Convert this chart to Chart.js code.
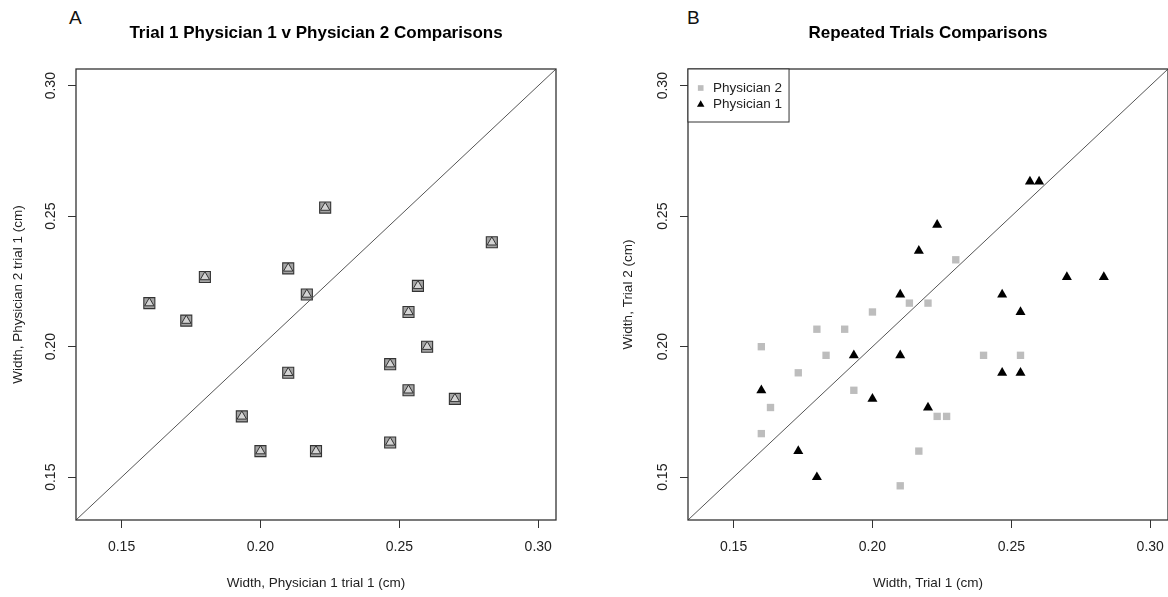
<!doctype html>
<html lang="en">
<head>
  <meta charset="utf-8">
  <title>Physician width comparisons</title>
  <script src="https://cdn.jsdelivr.net/npm/chart.js"></script>
  <style>
    html, body { margin: 0; padding: 0; background: #fff; }
    body { width: 1168px; height: 597px; overflow: hidden; position: relative;
           font-family: "Liberation Sans", Arial, sans-serif; }
    .panel { position: absolute; top: 0; }
    .tag { position: absolute; top: 8px; font-size: 19px; line-height: 19px; color: #111; }
  </style>
</head>
<body>
  <div class="tag" style="left:69px">A</div>
  <div class="tag" style="left:687px">B</div>
  <canvas id="chartA" class="panel" style="left:0" width="584" height="597"></canvas>
  <canvas id="chartB" class="panel" style="left:584px" width="600" height="597"></canvas>

  <script>
    // widths (cm), one entry per patient
    const p1Trial1 = [0.2233, 0.2833, 0.2100, 0.1800, 0.2567, 0.2167, 0.1600, 0.1733, 0.2533,
                      0.2600, 0.2467, 0.2100, 0.2533, 0.2700, 0.1933, 0.2467, 0.2000, 0.2200];
    const p2Trial1 = [0.2533, 0.2400, 0.2300, 0.2267, 0.2233, 0.2200, 0.2167, 0.2100, 0.2133,
                      0.2000, 0.1933, 0.1900, 0.1833, 0.1800, 0.1733, 0.1633, 0.1600, 0.1600];
    const p1Trial2 = [0.2467, 0.2267, 0.2200, 0.1500, 0.2633, 0.2367, 0.1833, 0.1600, 0.2133,
                      0.2633, 0.2200, 0.1967, 0.1900, 0.2267, 0.1967, 0.1900, 0.1800, 0.1767];
    const p2Trial2 = [0.1967, 0.1967, 0.2333, 0.1733, 0.1733, 0.2167, 0.1600, 0.1467, 0.2167,
                      0.2133, 0.1833, 0.2067, 0.1967, 0.2067, 0.1900, 0.1767, 0.2000, 0.1667];

    const tickValues = [0.15, 0.20, 0.25, 0.30];
    const axisMin = 0.1336, axisMax = 0.3064;   // xlim 0.14..0.30 plus R's 4% pad
    const diagEnds = [axisMin, axisMax];
    const legendNames = ['Physician 2', 'Physician 1'];

    Chart.defaults.font.family = '"Liberation Sans", Arial, sans-serif';
    Chart.defaults.color = '#222';

    const pts = (xs, ys) => xs.map((x, i) => ({ x, y: ys[i] }));

    // box round the plot region, like R's box()
    const frame = {
      id: 'frame',
      afterDatasetsDraw(chart) {
        const { ctx, chartArea: a } = chart;
        ctx.save();
        ctx.strokeStyle = '#333';
        ctx.lineWidth = 1.3;
        ctx.strokeRect(a.left, a.top, a.right - a.left, a.bottom - a.top);
        ctx.restore();
      }
    };

    // R style legend sitting in the top left corner of panel B
    const cornerLegend = {
      id: 'cornerLegend',
      afterDraw(chart) {
        const { ctx, chartArea: a } = chart;
        ctx.save();
        ctx.font = '13.5px "Liberation Sans", Arial, sans-serif';
        const textW = Math.max(...legendNames.map(n => ctx.measureText(n).width));
        ctx.fillStyle = '#fff';
        ctx.fillRect(a.left, a.top, 25 + textW + 7, 53);
        ctx.strokeStyle = '#333';
        ctx.lineWidth = 1;
        ctx.strokeRect(a.left, a.top, 25 + textW + 7, 53);
        legendNames.forEach((name, i) => {
          const ds = chart.data.datasets.find(d => d.label === name);
          const y = a.top + 19 + i * 16.5;
          ctx.fillStyle = ds.backgroundColor;
          Chart.helpers.drawPoint(ctx, {
            pointStyle: ds.pointStyle,
            radius: ds.pointStyle === 'rect' ? 4 : 4.3,
            rotation: 0,
            borderWidth: 0
          }, a.left + 12.7, y);
          ctx.fillStyle = '#222';
          ctx.textBaseline = 'middle';
          ctx.textAlign = 'left';
          ctx.fillText(name, a.left + 25, y);
        });
        ctx.restore();
      }
    };

    function panelOptions(title, xTitle, yTitle, padLeft, padRight, yWidth) {
      return {
        responsive: false,
        animation: false,
        layout: { padding: { left: padLeft, right: padRight, top: 0, bottom: 0 } },
        plugins: {
          legend: { display: false },
          tooltip: { enabled: false },
          title: {
            display: true, text: title, fullSize: false, color: '#000',
            font: { size: 17, weight: 'bold' },
            padding: { top: 23, bottom: 25.6 }
          }
        },
        scales: {
          x: {
            type: 'linear', min: axisMin, max: axisMax,
            afterFit: s => { s.height = 77; },
            afterBuildTicks: s => { s.ticks = tickValues.map(v => ({ value: v })); },
            grid: { drawOnChartArea: false, tickLength: 8, color: '#333' },
            border: { display: false },
            ticks: { padding: 11, font: { size: 14 }, callback: v => v.toFixed(2) },
            title: { display: true, text: xTitle, font: { size: 13.5 }, padding: { top: 0, bottom: 6 } }
          },
          y: {
            type: 'linear', min: axisMin, max: axisMax,
            afterFit: s => { s.width = yWidth; },
            afterBuildTicks: s => { s.ticks = tickValues.map(v => ({ value: v })); },
            grid: { drawOnChartArea: false, tickLength: 8, color: '#333' },
            border: { display: false },
            ticks: {
              padding: 3, minRotation: 90, maxRotation: 90, crossAlign: 'center',
              font: { size: 14 }, callback: v => v.toFixed(2)
            },
            title: { display: true, text: yTitle, font: { size: 13.5 }, padding: { top: 10.5, bottom: 0 } }
          }
        }
      };
    }

    const diagonal = () => ({
      label: 'y = x', data: pts(diagEnds, diagEnds), showLine: true,
      borderColor: '#555', borderWidth: 1, pointRadius: 0
    });

    new Chart(document.getElementById('chartA'), {
      type: 'scatter',
      data: {
        datasets: [
          diagonal(),
          {
            label: 'triangle', data: pts(p1Trial1, p2Trial1), pointStyle: 'triangle',
            pointRadius: 5.4, backgroundColor: '#d4d4d4', borderColor: '#333', borderWidth: 1
          },
          {
            label: 'square', data: pts(p1Trial1, p2Trial1), pointStyle: 'rect',
            pointRadius: 7.8, backgroundColor: '#a4a4a4', borderColor: '#333', borderWidth: 1.1
          }
        ]
      },
      options: panelOptions('Trial 1 Physician 1 v Physician 2 Comparisons',
        'Width, Physician 1 trial 1 (cm)', 'Width, Physician 2 trial 1 (cm)', 0, 28, 76),
      plugins: [frame]
    });

    new Chart(document.getElementById('chartB'), {
      type: 'scatter',
      data: {
        datasets: [
          diagonal(),
          {
            label: 'Physician 1', data: pts(p1Trial1, p1Trial2), pointStyle: 'triangle',
            pointRadius: 5.8, backgroundColor: '#000', borderWidth: 0
          },
          {
            label: 'Physician 2', data: pts(p2Trial1, p2Trial2), pointStyle: 'rect',
            pointRadius: 5.2, backgroundColor: '#bdbdbd', borderWidth: 0
          }
        ]
      },
      options: panelOptions('Repeated Trials Comparisons',
        'Width, Trial 1 (cm)', 'Width, Trial 2 (cm)', 26, 16, 78),
      plugins: [frame, cornerLegend]
    });
  </script>
</body>
</html>
